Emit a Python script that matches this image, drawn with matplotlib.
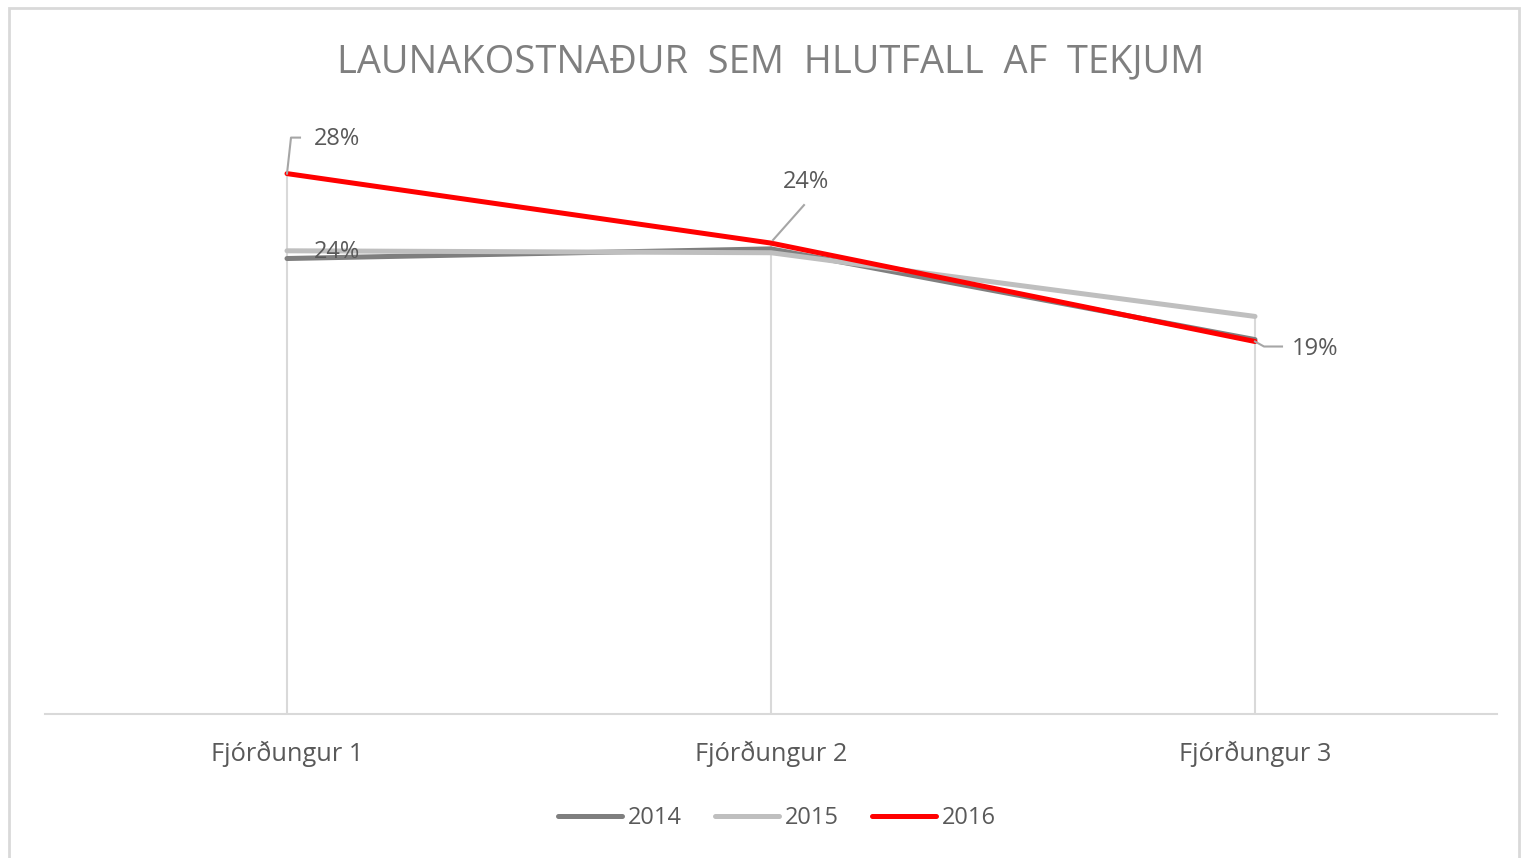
import matplotlib
matplotlib.use("Agg")
import matplotlib.pyplot as plt
from matplotlib.patches import Rectangle
from matplotlib.lines import Line2D

categories = ["Fjórðungur 1", "Fjórðungur 2", "Fjórðungur 3"]
series_names = ["2014", "2015", "2016"]
v2014 = [0.236, 0.241, 0.194]
v2015 = [0.240, 0.239, 0.206]
v2016 = [0.280, 0.244, 0.193]
labels2016 = ["28%", "24%", "19%"]
colors = ["#7f7f7f", "#bfbfbf", "#ff0000"]

W, H = 1521, 858
fig = plt.figure(figsize=(W/100, H/100), dpi=100)
plt.rcParams['font.family'] = ['Open Sans', 'DejaVu Sans']
txt = "#595959"
fs = 17

# chart border
fig.patches.append(Rectangle((9/W, -0.02), (1519-9)/W, (858-8)/H + 0.02, transform=fig.transFigure,
                             fill=False, edgecolor="#d9d9d9", linewidth=2))

ax = fig.add_axes([45/W, (858-714)/H, 1452/W, (714-135)/H])
x = list(range(len(categories)))
ax.set_xlim(-0.5, 2.5)
ax.set_ylim(0, 0.30)

# drop lines
for i in x:
    top = max(v2014[i], v2015[i], v2016[i])
    ax.plot([i, i], [0, top], color="#d9d9d9", lw=1.5, zorder=1)

for vals, c, n in zip([v2014, v2015, v2016], colors, series_names):
    ax.plot(x, vals, color=c, lw=3.6, solid_capstyle="round", label=n, zorder=3)

for s in ["top", "right", "left"]:
    ax.spines[s].set_visible(False)
ax.spines["bottom"].set_color("#d9d9d9")
ax.spines["bottom"].set_linewidth(1.5)
ax.set_yticks([])
ax.set_xticks(x)
ax.set_xticklabels(categories, fontsize=18.3, color=txt)
ax.tick_params(axis="x", length=0, pad=19)

lc = "#a6a6a6"
px0 = None
def seg(pts):
    inv = ax.transData.inverted()
    d = [inv.transform((px0[0]+a, px0[1]+b)) for a, b in pts]
    ax.add_line(Line2D([p[0] for p in d], [p[1] for p in d], color=lc, lw=1.5, zorder=4))

# Q1 label with leader
px0 = ax.transData.transform((0, v2016[0]))
seg([(0, 0), (4, 36), (13, 36)])
ax.annotate(labels2016[0], xy=(0, v2016[0]), xytext=(27, 35), textcoords="offset pixels",
            fontsize=fs, color=txt, va="center", ha="left", zorder=5)

# Q2 label
px0 = ax.transData.transform((1, v2016[1]))
seg([(2, 3), (33, 38)])
ax.annotate(labels2016[1], xy=(1, v2016[1]), xytext=(35, 61), textcoords="offset pixels",
            fontsize=fs, color=txt, va="center", ha="center", zorder=5)

# Q3 label
px0 = ax.transData.transform((2, v2016[2]))
seg([(0, 0), (9, -5), (27, -5)])
ax.annotate(labels2016[2], xy=(2, v2016[2]), xytext=(37, -7), textcoords="offset pixels",
            fontsize=fs, color=txt, va="center", ha="left", zorder=5)

# extra label at Q1 overlapping the gray lines
ax.annotate("24%", xy=(0, v2015[0]), xytext=(27, -1), textcoords="offset pixels",
            fontsize=fs, color=txt, va="center", ha="left", zorder=5)

fig.text(771/W, 1-62/H, "LAUNAKOSTNAÐUR  SEM  HLUTFALL  AF  TEKJUM", fontsize=27.4,
         color="#7f7f7f", ha="center", va="center")

leg = fig.legend(loc="center", bbox_to_anchor=(777/W, 1-818/H), ncol=3, frameon=False,
                 fontsize=fs, handlelength=2.7, handletextpad=0.25, columnspacing=1.4,
                 labelcolor=txt)

fig.savefig("out.png", dpi=100)
